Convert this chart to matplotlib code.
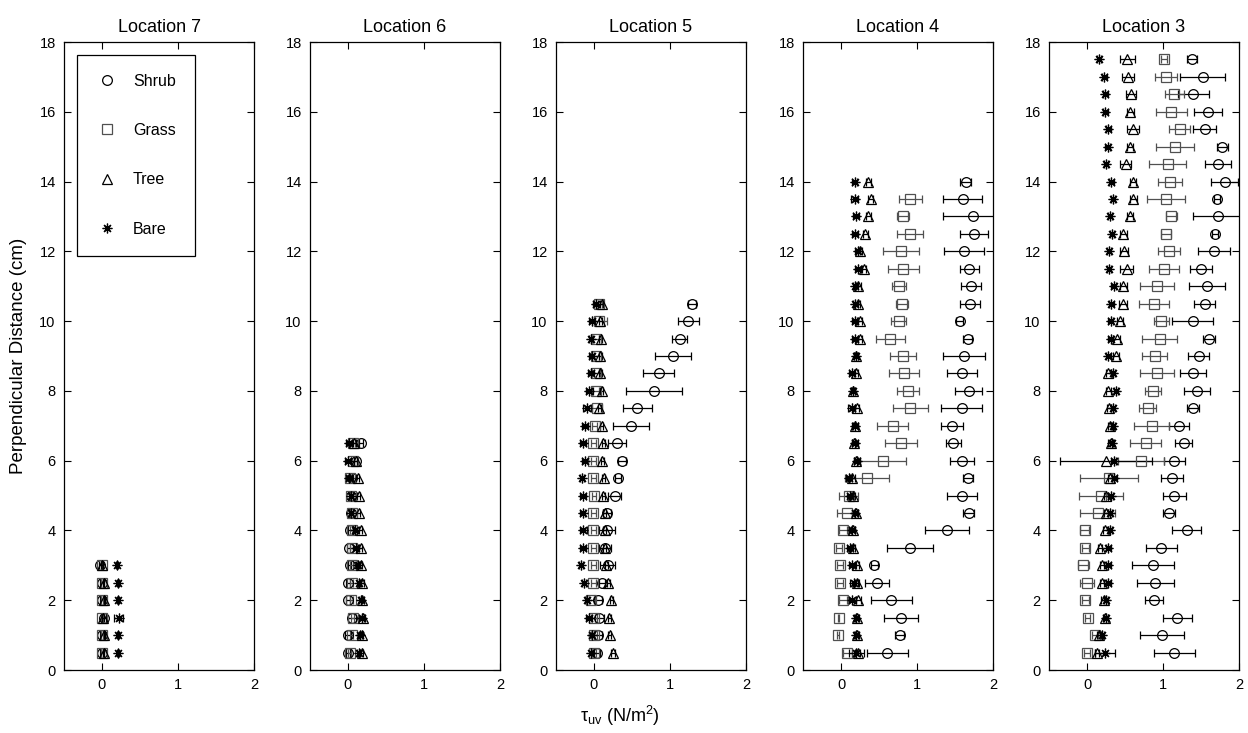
import numpy as np
import matplotlib
matplotlib.use('Agg')
import matplotlib.pyplot as plt
from matplotlib.lines import Line2D

plt.rcParams['font.family'] = ['Liberation Sans', 'DejaVu Sans']
plt.rcParams['mathtext.fontset'] = 'custom'
plt.rcParams['mathtext.rm'] = 'Liberation Sans'
plt.rcParams['mathtext.it'] = 'Liberation Sans:italic'

nan = np.nan

# Location 7 (0.5 - 3.0 cm)
loc7_shrub = [0.0, 0.0, 0.03, 0.0, 0.0, -0.02]
loc7_shrub_err = [0.02, 0.02, 0.02, 0.02, 0.02, 0.02]
loc7_grass = [0.0, 0.0, 0.0, 0.0, 0.0, 0.0]
loc7_grass_err = [0.01, 0.01, 0.01, 0.01, 0.01, 0.01]
loc7_tree = [0.02, 0.03, 0.01, 0.03, 0.02, 0.0]
loc7_tree_err = [0.01, 0.01, 0.01, 0.01, 0.01, 0.01]
loc7_bare = [0.21, 0.21, 0.22, 0.21, 0.21, 0.2]
loc7_bare_err = [0.01, 0.01, 0.06, 0.01, 0.01, 0.01]

# Location 6 (0.5 - 6.5 cm)
loc6_shrub = [0.0, 0.0, 0.05, 0.0, 0.0, 0.02, 0.01, 0.03, 0.04, 0.04, 0.05, 0.1, 0.17]
loc6_shrub_err = [0.02, 0.04, 0.05, 0.02, 0.02, 0.02, 0.02, 0.03, 0.02, 0.02, 0.02, 0.02, 0.03]
loc6_grass = [0.02, 0.05, 0.06, 0.04, 0.05, 0.05, 0.05, 0.05, 0.05, 0.04, 0.03, 0.06, 0.07]
loc6_grass_err = [0.02, 0.02, 0.02, 0.02, 0.02, 0.02, 0.02, 0.02, 0.02, 0.02, 0.02, 0.02, 0.02]
loc6_tree = [0.18, 0.18, 0.2, 0.19, 0.19, 0.17, 0.17, 0.17, 0.14, 0.14, 0.13, 0.1, 0.08]
loc6_tree_err = [0.02, 0.02, 0.02, 0.02, 0.02, 0.02, 0.02, 0.02, 0.02, 0.02, 0.02, 0.02, 0.02]
loc6_bare = [0.14, 0.16, 0.18, 0.17, 0.14, 0.13, 0.1, 0.09, 0.04, 0.04, 0.01, 0.0, 0.01]
loc6_bare_err = [0.02, 0.02, 0.03, 0.02, 0.02, 0.03, 0.03, 0.03, 0.03, 0.03, 0.04, 0.04, 0.04]

# Location 5 (0.5 - 10.5 cm)
loc5_shrub = [0.04, 0.05, 0.07, 0.05, 0.10, 0.18, 0.15, 0.17, 0.17, 0.27, 0.32,
              0.37, 0.30, 0.49, 0.57, 0.79, 0.85, 1.04, 1.13, 1.24, 1.29]
loc5_shrub_err = [0.04, 0.05, 0.06, 0.05, 0.04, 0.1, 0.08, 0.1, 0.05, 0.08, 0.04,
                  0.05, 0.12, 0.24, 0.19, 0.37, 0.2, 0.24, 0.1, 0.14, 0.05]
loc5_grass = [0.0, 0.0, 0.0, -0.04, -0.01, -0.01, -0.01, -0.01, -0.01, 0.0, -0.01,
              -0.01, -0.01, 0.01, 0.04, 0.02, 0.03, 0.02, 0.02, 0.07, 0.06]
loc5_grass_err = [0.03, 0.04, 0.04, 0.05, 0.03, 0.03, 0.03, 0.03, 0.03, 0.03, 0.03,
                  0.03, 0.03, 0.03, 0.07, 0.04, 0.05, 0.04, 0.04, 0.1, 0.04]
loc5_tree = [0.25, 0.21, 0.2, 0.23, 0.19, 0.16, 0.14, 0.14, 0.14, 0.12, 0.13,
             0.11, 0.12, 0.1, 0.07, 0.1, 0.08, 0.08, 0.09, 0.08, 0.1]
loc5_tree_err = [0.02] * 21
loc5_bare = [-0.04, -0.03, -0.06, -0.09, -0.13, -0.17, -0.15, -0.14, -0.15, -0.14, -0.16,
             -0.12, -0.15, -0.12, -0.09, -0.06, -0.04, -0.03, -0.04, -0.03, 0.02]
loc5_bare_err = [0.03, 0.03, 0.04, 0.03, 0.03, 0.03, 0.04, 0.05, 0.03, 0.04, 0.03,
                 0.04, 0.04, 0.04, 0.05, 0.05, 0.04, 0.03, 0.03, 0.04, 0.03]

# Location 4 (0.5 - 14.0 cm)
loc4_shrub = [0.61, 0.77, 0.79, 0.66, 0.47, 0.44, 0.91, 1.39, 1.68, 1.59, 1.67, 1.59, 1.48, 1.46,
              1.59, 1.68, 1.59, 1.62, 1.67, 1.56, 1.7, 1.71, 1.69, 1.62, 1.75, 1.74, 1.6, 1.64]
loc4_shrub_err = [0.27, 0.06, 0.22, 0.27, 0.16, 0.05, 0.3, 0.29, 0.07, 0.2, 0.07, 0.16, 0.1, 0.14,
                  0.27, 0.18, 0.2, 0.28, 0.06, 0.05, 0.13, 0.13, 0.13, 0.26, 0.19, 0.4, 0.26, 0.07]
loc4_grass = [0.08, -0.04, -0.03, 0.03, -0.01, -0.01, -0.03, 0.03, 0.08, 0.1, 0.34, 0.55, 0.79, 0.68,
              0.91, 0.88, 0.83, 0.82, 0.65, 0.76, 0.8, 0.76, 0.82, 0.79, 0.91, 0.82, 0.91, nan]
loc4_grass_err = [0.06, 0.01, 0.01, 0.05, 0.04, 0.04, 0.04, 0.05, 0.13, 0.13, 0.29, 0.3, 0.21, 0.2,
                  0.23, 0.14, 0.2, 0.17, 0.19, 0.1, 0.08, 0.09, 0.2, 0.24, 0.17, 0.08, 0.15, nan]
loc4_tree = [0.22, 0.21, 0.21, 0.23, 0.21, 0.21, 0.16, 0.16, 0.2, 0.16, 0.15, 0.2, 0.17, 0.19,
             0.21, 0.16, 0.2, 0.2, 0.25, 0.25, 0.22, 0.23, 0.3, 0.25, 0.32, 0.36, 0.39, 0.36]
loc4_tree_err = [0.03] * 28
loc4_bare = [0.2, 0.2, 0.2, 0.15, 0.17, 0.15, 0.12, 0.14, 0.19, 0.12, 0.1, 0.21, 0.18, 0.18,
             0.14, 0.16, 0.15, 0.2, 0.19, 0.18, 0.19, 0.19, 0.22, 0.22, 0.19, 0.2, 0.18, 0.18]
loc4_bare_err = [0.1, 0.03, 0.03, 0.05, 0.05, 0.05, 0.04, 0.04, 0.04, 0.04, 0.04, 0.04, 0.04, 0.04,
                 0.05, 0.03, 0.04, 0.03, 0.04, 0.03, 0.03, 0.03, 0.04, 0.03, 0.04, 0.04, 0.05, 0.03]

# Location 3 (0.5 - 17.5 cm)
loc3_shrub = [1.15, 0.99, 1.19, 0.88, 0.9, 0.87, 0.98, 1.31, 1.08, 1.15, 1.12, 1.15, 1.27, 1.21,
              1.39, 1.45, 1.4, 1.47, 1.61, 1.39, 1.55, 1.58, 1.5, 1.67, 1.69, 1.72, 1.71, 1.81,
              1.72, 1.78, 1.55, 1.59, 1.4, 1.52, 1.38]
loc3_shrub_err = [0.27, 0.29, 0.19, 0.12, 0.24, 0.28, 0.2, 0.19, 0.08, 0.15, 0.14, 0.14, 0.11, 0.13,
                  0.08, 0.17, 0.17, 0.14, 0.08, 0.27, 0.14, 0.24, 0.14, 0.21, 0.04, 0.33, 0.04, 0.18,
                  0.17, 0.07, 0.15, 0.18, 0.2, 0.3, 0.07]
loc3_grass = [0.0, 0.11, 0.01, -0.02, 0.0, -0.05, -0.02, -0.03, 0.14, 0.18, 0.29, 0.71, 0.77, 0.85,
              0.8, 0.87, 0.92, 0.89, 0.96, 0.98, 0.88, 0.92, 1.01, 1.08, 1.04, 1.11, 1.04, 1.09,
              1.06, 1.16, 1.22, 1.11, 1.15, 1.04, 1.01]
loc3_grass_err = [0.04, 0.04, 0.03, 0.04, 0.09, 0.07, 0.04, 0.06, 0.23, 0.29, 0.38, 0.3, 0.2, 0.23,
                  0.11, 0.11, 0.22, 0.16, 0.23, 0.1, 0.2, 0.22, 0.2, 0.15, 0.06, 0.07, 0.25, 0.16,
                  0.24, 0.25, 0.14, 0.2, 0.12, 0.15, 0.04]
loc3_tree = [0.13, 0.16, 0.24, 0.22, 0.2, 0.2, 0.17, 0.24, 0.25, 0.25, 0.3, 0.25, 0.31, 0.3,
             0.29, 0.28, 0.28, 0.38, 0.39, 0.44, 0.47, 0.48, 0.52, 0.49, 0.48, 0.56, 0.61, 0.61,
             0.51, 0.57, 0.6, 0.57, 0.58, 0.54, 0.53]
loc3_tree_err = [0.03, 0.03, 0.03, 0.03, 0.03, 0.03, 0.03, 0.03, 0.03, 0.03, 0.03, 0.6, 0.03, 0.03,
                 0.03, 0.03, 0.03, 0.04, 0.05, 0.04, 0.05, 0.05, 0.08, 0.05, 0.04, 0.04, 0.05, 0.04,
                 0.07, 0.04, 0.08, 0.05, 0.07, 0.08, 0.1]
loc3_bare = [0.24, 0.2, 0.25, 0.25, 0.28, 0.28, 0.28, 0.3, 0.3, 0.31, 0.36, 0.35, 0.33, 0.34,
             0.34, 0.38, 0.34, 0.28, 0.31, 0.31, 0.32, 0.35, 0.29, 0.29, 0.33, 0.3, 0.34, 0.32,
             0.25, 0.27, 0.28, 0.24, 0.24, 0.23, 0.16]
loc3_bare_err = [0.13] + [0.03] * 34

locations = [
    ('Location 7', loc7_shrub, loc7_shrub_err, loc7_grass, loc7_grass_err,
     loc7_tree, loc7_tree_err, loc7_bare, loc7_bare_err),
    ('Location 6', loc6_shrub, loc6_shrub_err, loc6_grass, loc6_grass_err,
     loc6_tree, loc6_tree_err, loc6_bare, loc6_bare_err),
    ('Location 5', loc5_shrub, loc5_shrub_err, loc5_grass, loc5_grass_err,
     loc5_tree, loc5_tree_err, loc5_bare, loc5_bare_err),
    ('Location 4', loc4_shrub, loc4_shrub_err, loc4_grass, loc4_grass_err,
     loc4_tree, loc4_tree_err, loc4_bare, loc4_bare_err),
    ('Location 3', loc3_shrub, loc3_shrub_err, loc3_grass, loc3_grass_err,
     loc3_tree, loc3_tree_err, loc3_bare, loc3_bare_err),
]

ASTERISK = (8, 2, 0)
styles = {
    'Shrub': dict(fmt='o', ms=7, color='k'),
    'Grass': dict(fmt='s', ms=7, color='#505050'),
    'Tree': dict(fmt='^', ms=7, color='k'),
    'Bare': dict(fmt=ASTERISK, ms=7, color='k'),
}

W, H = 1248, 733
fig = plt.figure(figsize=(W / 100, H / 100), dpi=100)
lefts = [64, 310, 556, 803, 1049]

for i, (title, *series) in enumerate(locations):
    ax = fig.add_axes([lefts[i] / W, 63 / H, 190 / W, 628 / H])
    dist = 0.5 * np.arange(1, len(series[0]) + 1)
    for k, name in enumerate(['Shrub', 'Grass', 'Tree', 'Bare']):
        st = styles[name]
        x = np.array(series[2 * k], dtype=float)
        xe = np.array(series[2 * k + 1], dtype=float)
        ax.errorbar(x, dist, xerr=xe, fmt='none', ecolor=st['color'],
                    elinewidth=0.9, capsize=3, capthick=0.9, zorder=2)
        ax.plot(x, dist, linestyle='none', marker=st['fmt'], ms=st['ms'],
                mfc='none', mec=st['color'], mew=0.9, zorder=3)
    ax.set_xlim(-0.5, 2)
    ax.set_ylim(0, 18)
    ax.set_xticks([0, 1, 2])
    ax.set_yticks(np.arange(0, 19, 2))
    ax.tick_params(direction='in', top=True, right=True, length=5, width=0.8,
                   labelsize=10.5, pad=6)
    for sp in ax.spines.values():
        sp.set_linewidth(0.9)
    ax.set_title(title, fontsize=13, pad=7)

    if i == 0:
        handles = [Line2D([], [], linestyle='none', marker=styles[n]['fmt'],
                          ms=7, mfc='none', mec=styles[n]['color'], mew=0.9)
                   for n in ['Shrub', 'Grass', 'Tree', 'Bare']]
        leg = ax.legend(handles, ['Shrub', 'Grass', 'Tree', 'Bare'],
                        loc='upper left', bbox_to_anchor=(0.068, 0.98),
                        fontsize=11.5, labelspacing=2.15, handlelength=1.4,
                        handletextpad=0.9, borderpad=1.2, borderaxespad=0,
                        fancybox=False, framealpha=1)
        leg.get_frame().set_edgecolor('k')
        leg.get_frame().set_linewidth(0.9)

fig.text(19 / W, 1 - 356 / H, 'Perpendicular Distance (cm)', rotation=90,
         ha='center', va='center', fontsize=13.5)
fig.text(0.497, 1 - 716 / H, r'$\mathregular{\tau_{uv}}$ (N/m$^\mathregular{2}$)',
         ha='center', va='center', fontsize=13)

fig.savefig('out.png', dpi=100, facecolor='white')
